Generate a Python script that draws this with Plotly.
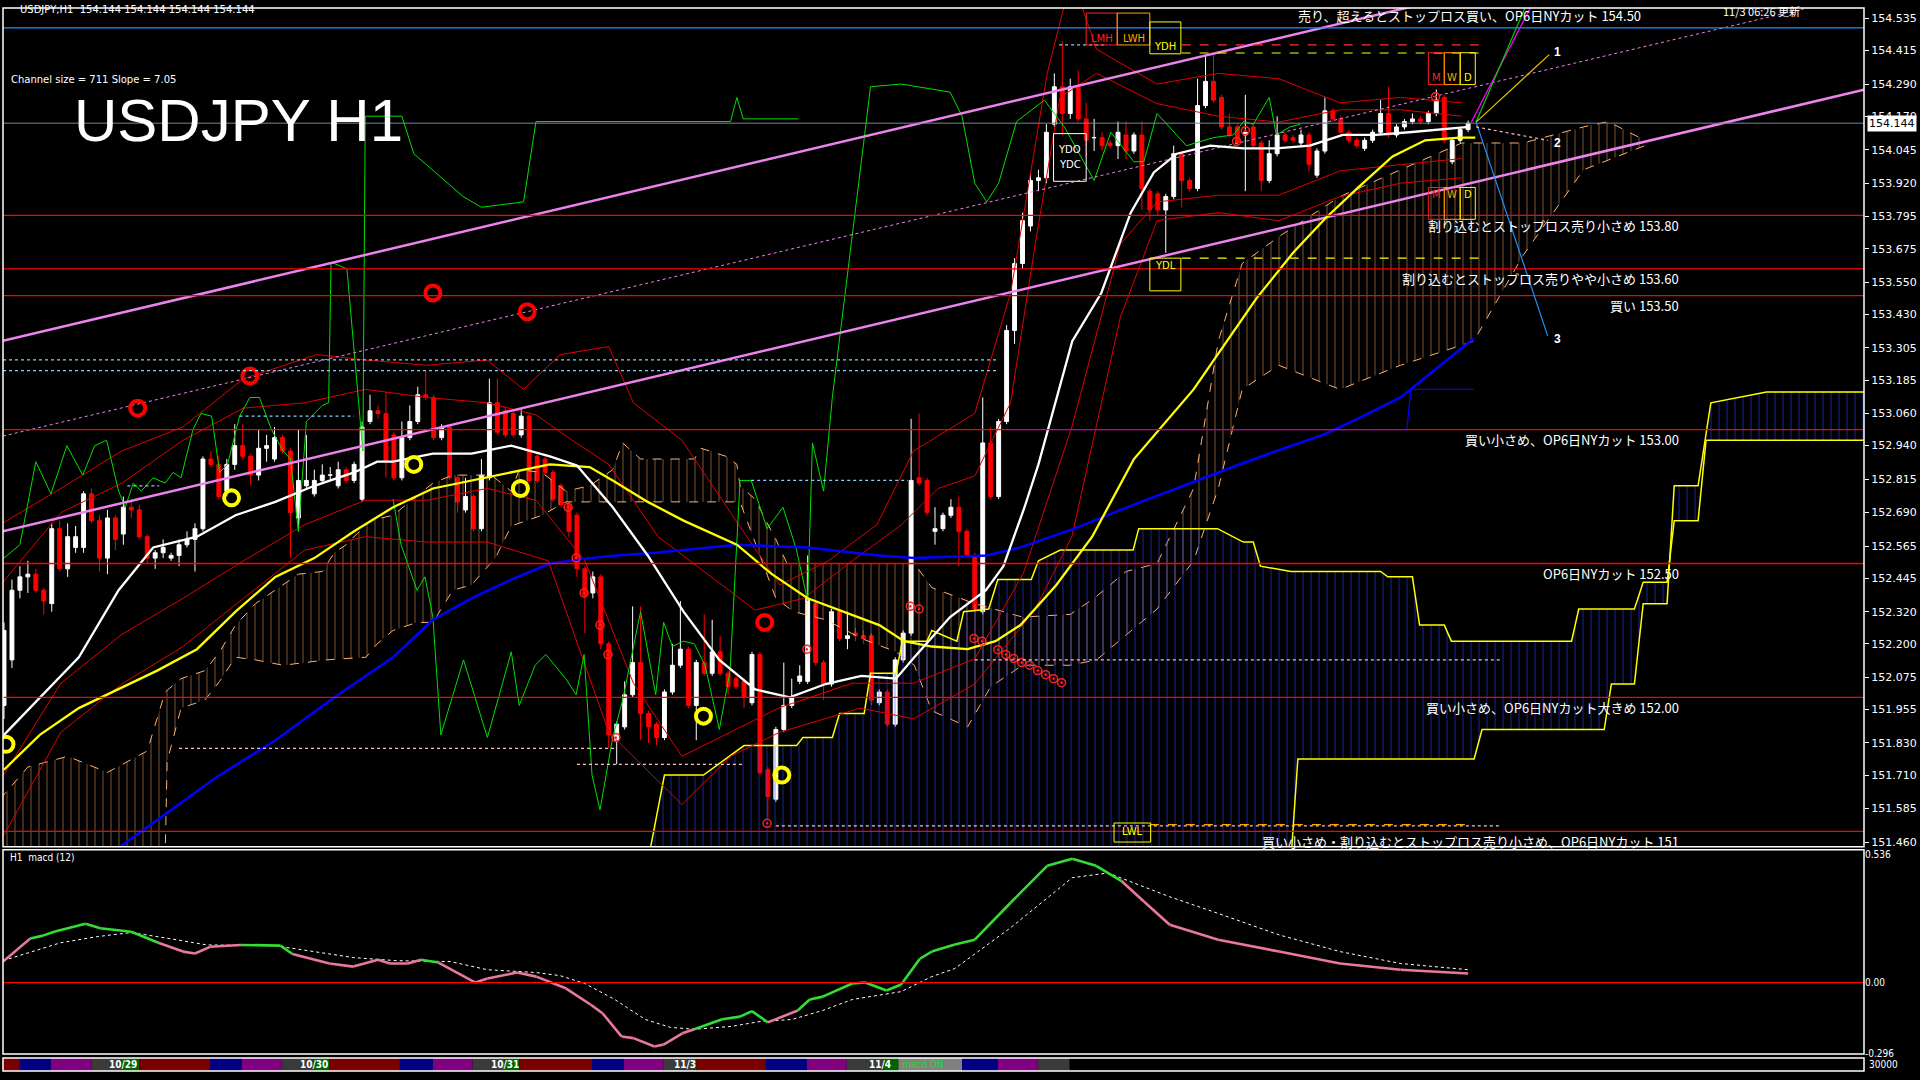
import numpy as np
import plotly.graph_objects as go

# ---------------- data ----------------
opens = [151.97,152.14,152.40,152.45,152.46,152.40,152.35,152.63,152.48,152.56,
152.56,152.76,152.66,152.52,152.67,152.61,152.71,152.70,152.60,152.52,
152.54,152.52,152.53,152.57,152.59,152.63,152.89,152.87,152.77,152.87,
152.94,152.90,152.83,152.93,152.89,152.97,152.92,152.67,152.79,152.76,
152.81,152.83,152.79,152.85,152.81,152.74,153.03,153.07,153.06,152.98,
152.82,152.97,153.03,153.13,153.12,152.97,153.01,152.82,152.70,152.75,
152.63,152.82,153.10,153.07,153.06,152.98,153.05,152.90,152.89,152.84,
152.79,152.72,152.68,152.48,152.39,152.45,152.20,151.84,151.89,152.01,
152.13,151.94,151.90,151.85,152.02,152.12,152.18,151.97,152.13,152.09,
152.17,152.09,152.07,152.06,151.98,152.16,151.73,151.62,151.88,151.97,
152.06,152.06,152.35,152.13,152.05,152.32,152.22,152.24,152.23,152.23,
151.98,152.02,151.90,152.14,152.24,152.82,152.81,152.62,152.63,152.68,
152.71,152.62,152.53,152.32,152.95,152.75,153.03,153.37,153.62,153.76,
153.93,153.94,154.14,154.28,154.18,154.28,154.16,154.09,154.09,154.07,
154.06,154.10,154.04,154.10,153.89,153.88,153.82,153.87,154.03,153.93,
153.90,154.21,154.30,154.24,154.13,154.13,154.10,154.13,154.07,153.93,
154.03,154.10,154.09,154.07,154.10,153.95,154.04,154.19,154.16,154.11,
154.08,154.05,154.08,154.11,154.18,154.10,154.13,154.15,154.16,154.15,
154.18,154.24,154.00,154.08,154.12]
closes = [152.25,152.40,152.45,152.46,152.40,152.36,152.63,152.48,152.60,152.60,
152.76,152.66,152.52,152.67,152.59,152.71,152.70,152.60,152.52,152.54,
152.56,152.53,152.57,152.59,152.63,152.89,152.87,152.75,152.87,152.94,
152.90,152.83,152.93,152.94,152.97,152.92,152.69,152.81,152.81,152.81,
152.83,152.83,152.85,152.81,152.87,153.01,153.07,153.06,152.88,152.82,
152.97,153.03,153.13,153.12,152.97,153.01,152.82,152.73,152.75,152.63,
152.83,153.10,152.99,152.98,152.98,153.05,152.81,152.81,152.84,152.74,
152.72,152.62,152.48,152.38,152.45,152.20,151.86,151.90,152.01,152.13,
151.94,151.89,151.85,152.02,152.12,152.18,151.97,152.13,152.09,152.17,
152.09,152.04,152.04,152.00,152.16,151.72,151.63,151.88,151.97,152.00,
152.08,152.37,152.13,152.05,152.32,152.22,152.23,152.23,152.22,151.99,
152.02,151.90,152.14,152.24,152.81,152.80,152.69,152.63,152.68,152.71,
152.62,152.53,152.33,152.95,152.75,153.03,153.37,153.62,153.78,153.93,
153.94,154.11,154.28,154.18,154.28,154.16,154.08,154.09,154.06,154.06,
154.11,154.04,154.10,153.90,153.82,153.82,153.87,154.03,153.93,153.90,
154.21,154.30,154.23,154.13,154.10,154.07,154.11,154.06,153.93,154.03,
154.10,154.08,154.08,154.10,153.99,154.04,154.19,154.16,154.11,154.08,
154.06,154.08,154.11,154.18,154.10,154.13,154.15,154.16,154.15,154.18,
154.23,154.08,154.08,154.12,154.144]
upper_wick_pips = [3,4,4,5,2,1,2,3,5,4, 1,2,2,3,1,4,3,2,1,1, 3,1,2,3,2,1,3,3,2,8,
8,1,7,4,4,1,1,19,17,4, 4,3,3,1,1,2,6,2,8,1, 6,6,3,9,1,1,1,1,7,1, 6,9,9,1,1,3,1,1,1,1,
1,1,1,1,2,1,1,1,5,21, 21,1,1,1,8,18,1,1,18,12, 6,1,1,1,1,1,1,1,16,7, 4,16,1,1,1,1,9,2,2,1,
1,1,1,1,23,24,1,8,1,3, 4,1,1,17,6,1,2,2,3,3, 3,3,5,17,3,6,6,7,2,1, 4,5,1,5,1,1,1,3,1,1,
10,10,10,1,5,1,14,1,1,5, 7,1,1,2,1,1,5,1,1,1, 1,1,1,5,10,1,1,2,1,1, 4,1,1,1,1]
lower_wick_pips = [5,3,3,6,1,5,3,1,3,2, 2,1,5,6,4,4,3,1,2,4, 2,1,4,1,12,1,1,1,2,2,
1,4,2,5,1,1,17,5,1,1, 1,2,1,1,1,1,1,2,6,1, 1,1,1,1,1,1,1,4,1,1, 1,1,1,1,1,1,1,1,1,1,
1,2,3,14,2,2,5,9,1,1, 10,6,3,1,1,1,1,13,1,1, 1,3,1,4,1,1,8,1,1,1, 1,1,1,6,1,1,4,2,2,2,
1,1,1,1,1,1,1,5,1,1, 13,1,1,1,1,1,1,5,2,2, 4,2,1,8,2,1,6,5,2,1, 5,3,1,8,4,2,16,1,10,1,
1,1,1,1,1,1,21,1,4,1, 1,1,1,1,3,1,1,1,1,1, 1,1,1,1,1,1,1,1,1,1, 1,1,1,1,1]

# moving averages (bar index, price)
ma_white_x = [0,4.5,9.4,14.4,18.75,24.25,29.1,34.1,39,44,46.9,48.9,53.9,58.75,63.75,68.6,72,76.5,80.9,85.4,
              89.9,94.4,98.75,103.25,107.75,112.1,114.4,118.9,123.4,125.6,128.25,130,132.25,134.25,137.9,
              141.6,144.5,147.4,151.6,155.75,159.9,164.1,168.25,172.4,176.6,180.75,184.1]
ma_white_y = [151.86,152.00,152.15,152.40,152.56,152.60,152.68,152.73,152.79,152.84,152.88,152.88,152.91,152.91,
              152.94,152.90,152.866,152.71,152.53,152.32,152.14,152.03,152.00,152.05,152.08,152.07,152.15,152.30,
              152.40,152.49,152.71,152.87,153.116,153.33,153.51,153.81,153.96,154.03,154.06,154.05,154.05,154.06,
              154.10,154.10,154.11,154.12,154.13]
ma_yellow_x = [0,4.5,9.4,14.4,19.25,24.25,29.1,34.1,39,44,48.9,53.9,58.75,63.75,68.6,73.6,76.5,80.9,85.4,92.1,
               96.5,101,105.5,110,113.1,116.6,121.1,124.6,127.75,132.25,136.75,142,149.5,157.4,162,166.1,170.4,
               174.5,178.6,182.9,184.9]
ma_yellow_y = [151.73,151.86,151.96,152.03,152.10,152.18,152.32,152.45,152.52,152.62,152.71,152.78,152.81,152.84,
               152.87,152.86,152.81,152.73,152.66,152.57,152.46,152.37,152.32,152.27,152.21,152.19,152.18,152.21,
               152.27,152.42,152.60,152.89,153.15,153.49,153.66,153.79,153.91,154.02,154.08,154.09,154.09]
ma_blue_x = [14.5,26.6,34.1,41.5,48.9,53.9,58.75,63.75,68.6,73.6,77,81.9,92.1,101,110,114.4,123.4,127.75,134.5,142,
             155.75,159.9,165.75,170.1,175.5,184.7]
ma_blue_y = [151.44,151.70,151.84,152.00,152.15,152.29,152.37,152.44,152.50,152.52,152.53,152.54,152.57,152.56,152.53,
             152.52,152.53,152.56,152.63,152.72,152.875,152.92,152.98,153.04,153.12,153.34]
kijun_blue_x = [126.5, 176.3, 176.8, 184.7]
kijun_blue_y = [153.00, 153.00, 153.15, 153.15]

# bollinger-type thin red bands (outer and inner)
bb_up_x = [-0.5,7.15,14.8,22.5,30.1,39.3,45.4,53.1,60.7,65.3,69.9,76,79.1,85.2,91.3,97.5,103.6,109.7,114.3,122,126.5,
           131.1,133.4,135,137.3,144.9,152.6,160.2,167.9,175.5,183.2]
bb_up_y = [152.645,152.78,152.92,153.01,153.19,153.28,153.26,153.24,153.26,153.15,153.28,153.31,153.10,152.96,152.69,
           152.42,152.51,152.645,152.92,153.06,153.51,154.33,154.60,154.62,154.42,154.29,154.33,154.31,154.22,154.24,154.22]
bb_lo_x = [-0.5,7.15,14.8,22.5,30.1,37.8,45.4,53.1,60.7,68.4,76,82.2,85.2,91.3,97.5,107.6,114.3,122,129.6,134.2,140.3,
           144.9,152.6,160.2,167.9,175.5,183.2]
bb_lo_y = [151.46,151.87,152.05,152.19,152.37,152.55,152.60,152.58,152.58,152.51,151.87,151.69,151.60,151.78,151.87,
           151.96,151.92,152.05,152.33,152.60,153.42,153.78,153.81,153.78,153.87,153.92,153.94]
bb_in_up_x = [-0.5,7.15,14.8,22.5,30.1,37.8,45.4,53.1,60.7,66.85,71.4,76,82.2,88.3,94.4,100.5,106.6,112.8,117.4,122,
              126.5,129.6,132.7,137.3,144.9,152.6,160.2,167.9,175.5,183.2]
bb_in_up_y = [152.417,152.69,152.80,152.96,153.08,153.10,153.15,153.12,153.10,153.055,152.96,152.87,152.60,152.463,
              152.326,152.37,152.51,152.645,152.78,152.827,153.10,153.693,154.24,154.33,154.217,154.17,154.148,154.194,
              154.194,154.17]
bb_in_lo_x = [-0.5,7.15,14.8,22.5,30.1,37.8,45.4,53.1,60.7,66.85,73,79.1,85.2,91.3,97.5,106.6,114.3,122,128.1,134.2,
              140.3,144.9,152.6,160.2,167.9,175.5,183.2]
bb_in_lo_y = [151.688,152.053,152.235,152.37,152.51,152.645,152.736,152.736,152.78,152.736,152.51,152.053,151.78,151.87,
              151.962,152.053,152.053,152.144,152.463,153.01,153.693,153.85,153.875,153.875,153.966,153.989,154.012]

# green lines
green_a_x = [0,2,4,5.9,7.9,9.9,11.4,12.9,14.4,15.25,16.25,17.25,18.75,20.25,21.25,22.25,23.75,24.75,26.1,27.1,28.1,
             29.6,30.9,32.1,33.6,35.1,36,37,38,40,40.8,41.1,43.1,45.1,45.4,50,51.5,57.7,60,65.3,66.85,91.3,92.1,92.9,99.8]
green_a_y = [152.52,152.57,152.88,152.76,152.94,152.83,152.94,152.96,152.77,152.71,152.80,152.77,152.82,152.80,152.84,
             152.82,153.00,153.06,153.05,152.84,152.87,153.05,153.12,153.12,153.00,152.92,152.89,152.62,153.03,153.09,
             153.10,153.625,153.60,152.92,154.17,154.17,154.03,153.87,153.83,153.85,154.15,154.15,154.24,154.16,154.16]
green_b_x = [48.9,49.9,51.9,52.9,53.9,54.9,57.75,60.75,63.75,64.75,66.75,68.1,70.6,71.9,72.9,73.9,74.9,76.5,77.75,80,
             81.9,82.9,84,85.4,86.75,88.1,89.9,91.25,92.5,93.9,95.9,97.9,99.6,101,101.6,103,104.1,108.9,112.75,118.9,
             120.4,122,123.5,125,127.25,130.75,133.25,137,139.1,142,143.25,144.9,148.6,152,154.5,155.75,157,159,
             159.9,161.6,162.9]
green_b_y = [152.74,152.57,152.40,152.45,152.30,151.86,152.14,151.85,152.17,151.97,152.12,152.16,152.07,152.01,152.16,
             151.71,151.58,151.85,151.99,152.32,152.01,152.28,152.19,152.21,152.20,152.12,151.88,152.10,152.81,152.81,
             152.63,152.71,152.55,152.36,152.95,152.77,153.12,154.28,154.29,154.26,154.17,153.92,153.85,153.92,154.15,
             154.23,154.13,153.93,154.11,154.00,154.00,154.18,154.06,154.09,154.10,154.15,154.14,154.24,154.10,154.13,
             154.14]

# H1 ichimoku cloud spans (orange)
kumo_a_x = [-0.5,3,8,13,18,20.25,22.25,25.25,27.1,29.1,31.6,34.1,37,40,41.5,43,46,48.9,51.4,53.9,56.4,61.25,63.75,
            64.75,67.6,70.6,73.6,76.5,77.75,80,86.75,87.6,90.75,92.1,92.5,94.4,96.1,97,98.4,114.4,116.6,122,128,134,
            137,141,144.9,149.5,152.6,155.6,160.2,167.9,175.5,183.2,190.9,198.5,201.6,206.2]
kumo_a_y = [151.62,151.74,151.78,151.72,151.80,152.02,152.07,152.10,152.17,152.27,152.35,152.40,152.46,152.47,152.54,
            152.57,152.66,152.68,152.74,152.80,152.83,152.83,152.77,152.85,152.84,152.77,152.79,152.85,152.95,152.89,
            152.89,152.93,152.90,152.87,152.79,152.74,152.64,152.59,152.50,152.50,152.41,152.35,152.30,152.31,152.37,
            152.47,152.50,152.78,153.33,153.62,153.72,153.87,153.97,154.07,154.07,154.13,154.15,154.08]
kumo_b_x = [-0.5,20.25,20.5,22.25,25.25,27.1,29.1,31.6,35.1,40.5,45.5,46.9,48.9,51.9,53.9,56.4,58.75,61.75,63.75,
            67.6,70.6,92.5,97,99.25,103.25,107.75,112.1,114.4,116.6,121.1,124,128,134,137.3,144.9,149.5,152.6,155.6,
            160.2,167.9,175.5,184.7,190.9,198.5,206.2]
kumo_b_y = [151.40,151.40,151.76,151.96,151.99,152.06,152.15,152.14,152.12,152.14,152.15,152.20,152.25,152.28,152.28,
            152.40,152.42,152.52,152.64,152.68,152.73,152.73,152.37,152.32,152.29,152.22,152.17,152.12,151.95,151.89,
            152.04,152.12,152.12,152.14,152.33,152.51,152.78,153.15,153.24,153.15,153.24,153.33,153.65,153.97,154.06]

# higher-timeframe cloud (blue, bounded by yellow step lines)
htf_a_x = [81.0,82.0,83.0,87.9,93,99.6,100.4,104.1,105,108.1,108.9,112.1,112.9,116,116.6,119.75,120.6,123.75,124.9,129.1,
           130,132.75,141.9,142.6,152.5,155.75,157,157.9,161.75,173,173.9,177,177.9,181,181.9,197,197.9,204.9,206,
           209,209.9,212.9,213.9,233.75]
htf_a_y = [151.40,151.55,151.71,151.71,151.82,151.82,151.85,151.85,151.94,151.94,152.09,152.09,152.21,152.21,152.25,
           152.21,152.32,152.33,152.44,152.44,152.51,152.55,152.55,152.63,152.63,152.58,152.58,152.49,152.47,152.47,
           152.45,152.45,152.27,152.27,152.21,152.21,152.33,152.33,152.43,152.43,152.66,152.66,152.96,152.96]
htf_b_x = [81.0,161.75,162.6,184.75,185.75,201.1,202,204.9,206,209,209.9,212.9,214.5,221.5,233.75]
htf_b_y = [151.40,151.40,151.77,151.77,151.88,151.88,152.05,152.05,152.35,152.35,152.79,152.79,153.10,153.14,153.14]

# MACD (bar index, value)
macd_x = [-0.125,3.3,4.9,6.4,10.25,12.1,16,19.4,22.5,24,25.9,29.75,34.75,36.25,40.9,43.9,47,48.5,50.75,52.4,54.6,
          59.25,60.75,64.5,66.9,70.6,73.75,75.25,77.6,79.1,81.75,82.9,85.25,86.75,90.25,92.5,94,96,99.75,101.25,
          102.9,106.6,108.25,110.9,112.75,115.1,116.6,119.5,122,126.5,131.1,134.25,137.25,140.4,143.25,146.5,152.6,
          160.25,167.9,175.5,184]
macd_y = [0.088,0.185,0.197,0.214,0.247,0.228,0.213,0.167,0.13,0.122,0.15,0.158,0.155,0.12,0.08,0.067,0.096,0.08,
          0.08,0.096,0.084,0.0,0.017,0.042,0.025,-0.024,-0.093,-0.13,-0.226,-0.233,-0.268,-0.26,-0.213,-0.196,-0.154,
          -0.143,-0.12,-0.167,-0.117,-0.071,-0.059,-0.004,0.0,-0.033,-0.008,0.1,0.13,0.16,0.18,0.335,0.49,0.52,0.49,
          0.427,0.34,0.243,0.18,0.13,0.08,0.054,0.038]
signal_x = [-0.1,7.1,11.75,16,20.9,25.5,34,39.25,43.9,49.25,56.1,60.75,66.9,69.9,73,76.75,80.6,83.75,86.75,91.4,95.1,
            99,102.9,106.6,112.75,116.6,119.5,126.5,134.25,138.75,146.5,152.6,160.25,167.9,175.5,184]
signal_y = [0.092,0.167,0.193,0.21,0.184,0.158,0.155,0.13,0.105,0.092,0.088,0.054,0.042,0.029,-0.004,-0.071,-0.155,
            -0.188,-0.196,-0.184,-0.163,-0.155,-0.117,-0.071,-0.038,0.025,0.059,0.23,0.44,0.46,0.36,0.29,0.2,0.13,
            0.08,0.054]

# horizontal levels and their notes
red_levels = [153.80, 153.60, 153.50, 153.00, 152.50, 152.00, 151.50]
red_notes = ["割り込むとストップロス売り小さめ 153.80", "割り込むとストップロス売りやや小さめ 153.60", "買い 153.50",
             "買い小さめ、OP6日NYカット 153.00", "OP6日NYカット 152.50", "買い小さめ、OP6日NYカット大きめ 152.00",
             "買い小さめ・割り込むとストップロス売り小さめ、OP6日NYカット 151"]
blue_level = 154.50
blue_note = "売り、超えるとストップロス買い、OP6日NYカット 154.50"
last_price = 154.144

price_ticks = [154.535,154.415,154.290,154.170,154.045,153.920,153.795,153.675,153.550,153.430,153.305,153.185,
               153.060,152.940,152.815,152.690,152.565,152.445,152.320,152.200,152.075,151.955,151.830,151.710,
               151.585,151.460]
macd_ticks = [0.536, 0.0, -0.296]
macd_tick_text = ["0.536", "0.00", "-0.296"]

# regression channel
channel_start_bar = 0
channel_start_low = 152.621
channel_slope = 0.00705
channel_size = 0.711

# session strip (bar index ranges)
strip_edges = [-0.125,2,5.9,11,14.75,17,25.9,29.9,34.9,38.9,40.9,49.75,53.9,58.9,62.9,64.75,73.9,77.9,82.9,86.75,87,
               95.75,100.9,105.9,110.5,112.4,120.4,124.9,129.9,133.9]
strip_colors = ["#7a0000","#000080","#800080","#3a3a3a","#006400","#7a0000","#000080","#800080","#3a3a3a","#006400",
                "#7a0000","#000080","#800080","#3a3a3a","#006400","#7a0000","#000080","#800080","#3a3a3a","#006400",
                "#7a0000","#000080","#800080","#3a3a3a","#006400","#808080","#000080","#800080","#3a3a3a"]
date_labels = ["10/29", "10/30", "10/31", "11/3", "11/4"]
date_label_bars = [15.0, 38.9, 62.9, 85.6, 110.1]

# markers
red_ring_x = [70.9,71.9,72.9,74.9,75.9,76.9,95.9,100.9,113.9,115,121.9,122.9,124.9,125.9,126.9,127.9,128.9,129.9,130.9,
              131.9,132.9,154.9,156,179.9]
red_ring_y = [152.71,152.52,152.39,152.27,152.16,151.85,151.53,152.18,152.34,152.33,152.22,152.21,152.178,152.16,152.145,
              152.13,152.12,152.10,152.085,152.07,152.055,154.076,154.116,154.243]
big_red_x = [16.8, 30.9, 53.9, 65.75, 95.6]
big_red_y = [153.08, 153.20, 153.51, 153.44, 152.28]
yellow_mark_x = [0.25, 28.6, 51.5, 64.9, 87.9, 97.75]
yellow_mark_y = [151.825, 152.745, 152.87, 152.78, 151.93, 151.71]

# ---------------- figure ----------------
bars = list(range(len(closes)))
highs = [max(o, c) + u / 100 for o, c, u in zip(opens, closes, upper_wick_pips)]
lows = [min(o, c) - d / 100 for o, c, d in zip(opens, closes, lower_wick_pips)]

XR = [-0.125, 233.75]
YR = [151.442, 154.574]

fig = go.Figure()

def line_trace(x, y, color, width, dash="solid", **kw):
    return go.Scatter(x=x, y=y, mode="lines", line=dict(color=color, width=width, dash=dash),
                      showlegend=False, hoverinfo="skip", **kw)

# orange H1 cloud
fig.add_trace(go.Scatter(x=kumo_a_x + kumo_b_x[::-1], y=kumo_a_y + kumo_b_y[::-1], mode="lines",
                         line=dict(width=0), fill="toself", fillcolor="rgba(0,0,0,0)",
                         fillpattern=dict(shape="|", fgcolor="#FFB070", bgcolor="rgba(0,0,0,0)", size=8, solidity=0.12),
                         hoverinfo="skip", showlegend=False))
fig.add_trace(line_trace(kumo_a_x, kumo_a_y, "#FFB070", 1, "dash"))
fig.add_trace(line_trace(kumo_b_x, kumo_b_y, "#FFB070", 1, "dash"))
# blue HTF cloud
fig.add_trace(go.Scatter(x=htf_a_x + htf_b_x[::-1], y=htf_a_y + htf_b_y[::-1], mode="lines", line=dict(width=0),
                         fill="toself", fillcolor="rgba(0,0,0,0)",
                         fillpattern=dict(shape="|", fgcolor="#2846FF", bgcolor="rgba(0,0,0,0)", size=8, solidity=0.14),
                         hoverinfo="skip", showlegend=False))
fig.add_trace(line_trace(htf_a_x, htf_a_y, "#FFFF00", 1.5))
fig.add_trace(line_trace(htf_b_x, htf_b_y, "#FFFF00", 1.5))

# thin red bands
for bx, by in ((bb_up_x, bb_up_y), (bb_lo_x, bb_lo_y), (bb_in_up_x, bb_in_up_y), (bb_in_lo_x, bb_in_lo_y)):
    fig.add_trace(line_trace(bx, by, "#E00000", 1))
# green lines
for gx_, gy_ in ((green_a_x, green_a_y), (green_b_x, green_b_y)):
    fig.add_trace(line_trace(gx_, gy_, "#00E000", 1))

# channel
ch_x = [XR[0], XR[1]]
low_line = [channel_start_low + channel_slope * (b - channel_start_bar) for b in ch_x]
fig.add_trace(line_trace(ch_x, low_line, "#EE82EE", 2.5))
fig.add_trace(line_trace(ch_x, [v + channel_size for v in low_line], "#EE82EE", 2.5))
fig.add_trace(line_trace(ch_x, [v + channel_size / 2 for v in low_line], "#EE82EE", 1, "dot"))

# MAs
fig.add_trace(line_trace(kijun_blue_x, kijun_blue_y, "#0000FF", 1.2))
fig.add_trace(line_trace(ma_blue_x, ma_blue_y, "#0000FF", 2.5))
fig.add_trace(line_trace(ma_yellow_x, ma_yellow_y, "#FFFF00", 2.3))
fig.add_trace(line_trace(ma_white_x, ma_white_y, "#FFFFFF", 2.3))

# candles
fig.add_trace(go.Candlestick(x=bars, open=opens, high=highs, low=lows, close=closes,
                             increasing=dict(line=dict(color="#FFFFFF", width=1), fillcolor="#FFFFFF"),
                             decreasing=dict(line=dict(color="#FF0000", width=1), fillcolor="#FF0000"),
                             whiskerwidth=0, showlegend=False, hoverinfo="skip"))

# markers
fig.add_trace(go.Scatter(x=red_ring_x, y=red_ring_y, mode="markers",
                         marker=dict(symbol="circle-open-dot", size=8, color="#FF2020", line=dict(width=1.5)),
                         showlegend=False, hoverinfo="skip"))
fig.add_trace(go.Scatter(x=big_red_x, y=big_red_y, mode="markers",
                         marker=dict(symbol="circle-open", size=15, color="#FF0000", line=dict(width=4)),
                         showlegend=False, hoverinfo="skip"))
fig.add_trace(go.Scatter(x=yellow_mark_x, y=yellow_mark_y, mode="markers",
                         marker=dict(symbol="circle-open", size=15, color="#FFFF00", line=dict(width=4)),
                         showlegend=False, hoverinfo="skip"))

# MACD
sig_at = np.interp(macd_x, signal_x, signal_y)
gx, gy, px, py_ = [], [], [], []
for k in range(len(macd_x) - 1):
    tx, ty = (gx, gy) if macd_y[k] >= sig_at[k] else (px, py_)
    tx += [macd_x[k], macd_x[k + 1], None]
    ty += [macd_y[k], macd_y[k + 1], None]
fig.add_trace(line_trace(signal_x, signal_y, "#FFFFFF", 1, "dot", xaxis="x2", yaxis="y2"))
fig.add_trace(line_trace(gx, gy, "#33DD33", 2.6, xaxis="x2", yaxis="y2", connectgaps=False))
fig.add_trace(line_trace(px, py_, "#E8789C", 2.6, xaxis="x2", yaxis="y2", connectgaps=False))

shapes = []
ann = []
JP = "Noto Sans CJK JP"
# horizontal level lines
for lv in red_levels:
    shapes.append(dict(type="line", xref="x domain", yref="y", x0=0, x1=1, y0=lv, y1=lv,
                       line=dict(color="#FF0000", width=1.3)))
shapes.append(dict(type="line", xref="x domain", yref="y", x0=0, x1=1, y0=blue_level, y1=blue_level,
                   line=dict(color="#1E90FF", width=1.3)))
shapes.append(dict(type="line", xref="x domain", yref="y", x0=0, x1=1, y0=last_price, y1=last_price,
                   line=dict(color="#778899", width=1)))
# dotted helper lines
for yv in (153.26, 153.22):
    shapes.append(dict(type="line", xref="x", yref="y", x0=XR[0], x1=125, y0=yv, y1=yv,
                       line=dict(color="#87CEFA", width=1.2, dash="dot")))
for (x0, x1, yv, col, dsh) in [(148, 186, 154.406, "#FFFF00", "dash"), (148, 186, 154.436, "#FF3030", "dash"),
                               (132.6, 138.3, 154.436, "#87CEFA", "dot"), (148, 186, 153.64, "#FFFF00", "dash"),
                               (144, 184.5, 151.525, "#FFA500", "dash"), (122, 188, 152.14, "#FFC0CB", "dot"),
                               (97, 188, 151.52, "#FFC0CB", "dot"), (22, 77, 151.81, "#FFC0CB", "dot"),
                               (72, 93, 151.75, "#FFC0CB", "dot"), (15.5, 19.5, 152.79, "#87CEFA", "dot"),
                               (29.6, 44, 153.05, "#87CEFA", "dot"), (93.9, 113.6, 152.81, "#87CEFA", "dot")]:
    shapes.append(dict(type="line", xref="x", yref="y", x0=x0, x1=x1, y0=yv, y1=yv,
                       line=dict(color=col, width=1.2, dash=dsh)))
# forecast lines
for (x0, y0, x1, y1, col, dsh) in [(184.4, 154.148, 192.6, 154.62, "#FF00FF", "solid"),
                                   (185.0, 154.148, 191.8, 154.62, "#00CC00", "solid"),
                                   (185.0, 154.148, 194.2, 154.40, "#E8C000", "solid"),
                                   (185.0, 154.148, 194.0, 153.35, "#1E90FF", "solid"),
                                   (185.0, 154.13, 194.0, 154.08, "#FFB6C1", "dot")]:
    shapes.append(dict(type="line", xref="x", yref="y", x0=x0, y0=y0, x1=x1, y1=y1,
                       line=dict(color=col, width=1.2, dash=dsh)))
for t, yv in (("1", 154.408), ("2", 154.07), ("3", 153.34)):
    ann.append(dict(x=195.2, y=yv, xref="x", yref="y", text="<b>" + t + "</b>", showarrow=False,
                    font=dict(color="white", size=12, family="Liberation Sans")))
# boxes
boxes = [(136, 139.9, 154.555, 154.436, "#FF2020", "LMH", 154.462),
         (139.9, 144, 154.555, 154.436, "#FFA500", "LWH", 154.462),
         (144, 147.9, 154.522, 154.403, "#FFFF00", "YDH", 154.43),
         (131.9, 136, 154.105, 153.927, "#FFFFFF", "YDO", 154.046),
         (144, 147.9, 153.64, 153.518, "#FFFF00", "YDL", 153.614),
         (179, 181, 154.407, 154.288, "#FF2020", "M", 154.314),
         (181, 183, 154.407, 154.288, "#FFA500", "W", 154.314),
         (183, 184.9, 154.407, 154.288, "#FFFF00", "D", 154.314),
         (179, 181, 153.904, 153.785, "#FF2020", "M", 153.878),
         (181, 183, 153.904, 153.785, "#FFA500", "W", 153.878),
         (183, 184.9, 153.904, 153.785, "#FFFF00", "D", 153.878),
         (139.5, 144.1, 151.531, 151.46, "#FFFF00", "LWL", 151.50)]
for (x0, x1, y0, y1, col, txt, ty) in boxes:
    shapes.append(dict(type="rect", xref="x", yref="y", x0=x0, x1=x1, y0=y0, y1=y1, line=dict(color=col, width=1)))
    ann.append(dict(x=(x0 + x1) / 2, y=ty, xref="x", yref="y", text=txt, showarrow=False,
                    font=dict(color=col, size=10, family="DejaVu Sans")))
ann.append(dict(x=133.95, y=153.99, xref="x", yref="y", text="YDC", showarrow=False,
                font=dict(color="#FFFFFF", size=10, family="DejaVu Sans")))
# level notes
for lv, note in zip(red_levels, red_notes):
    ann.append(dict(x=210.75, y=lv, xref="x", yref="y", text=note, showarrow=False, xanchor="right",
                    yanchor="middle", yshift=-10, font=dict(color="white", size=13, family=JP)))
ann.append(dict(x=206.0, y=blue_level, xref="x", yref="y", text=blue_note, showarrow=False, xanchor="right",
                yanchor="middle", yshift=12, font=dict(color="white", size=13, family=JP)))

# macd zero line
shapes.append(dict(type="line", xref="x2 domain", yref="y2", x0=0, x1=1, y0=0, y1=0,
                   line=dict(color="#FF0000", width=1.3)))
# session strip
for k, col in enumerate(strip_colors):
    shapes.append(dict(type="rect", xref="x3", yref="y3 domain", x0=strip_edges[k], x1=strip_edges[k + 1],
                       y0=0, y1=1, fillcolor=col, line=dict(width=0), layer="below"))
for t, b in zip(date_labels, date_label_bars):
    ann.append(dict(x=b, y=0.5, xref="x3", yref="y3 domain", text="<b>" + t + "</b>", showarrow=False,
                    font=dict(color="white", size=10, family="DejaVu Sans Condensed")))
ann.append(dict(x=112.6, y=0.5, xref="x3", yref="y3 domain", text="macd ON", showarrow=False, xanchor="left",
                font=dict(color="#22DD22", size=10, family="DejaVu Sans Condensed")))

# panel borders
H = 1068.0
def py(yf):
    return (1076 - yf) / H
for (top, bot) in ((8, 850), (853, 1058), (1062, 1075)):
    shapes.append(dict(type="rect", xref="paper", yref="paper", x0=0, x1=1, y0=py(bot), y1=py(top),
                       line=dict(color="white", width=1.5)))

# texts
ann.append(dict(x=(18 - 3) / 1871, y=py(10), xref="paper", yref="paper", xanchor="left", yanchor="middle",
                text="USDJPY,H1  154.144 154.144 154.144 154.144", showarrow=False,
                font=dict(color="white", size=10, family="DejaVu Sans")))
ann.append(dict(x=(9 - 3) / 1871, y=py(80), xref="paper", yref="paper", xanchor="left", yanchor="middle",
                text="Channel size = 711 Slope = 7.05", showarrow=False,
                font=dict(color="white", size=10, family="DejaVu Sans")))
ann.append(dict(x=(72 - 3) / 1871, y=py(121), xref="paper", yref="paper", xanchor="left", yanchor="middle",
                text="USDJPY H1", showarrow=False, font=dict(color="white", size=60, family="Liberation Sans")))
ann.append(dict(x=(1812 - 3) / 1871, y=py(11), xref="paper", yref="paper", xanchor="right", yanchor="middle",
                text="11/3 06:26 更新", showarrow=False, font=dict(color="white", size=11, family=JP)))
ann.append(dict(x=(8 - 3) / 1871, y=py(861), xref="paper", yref="paper", xanchor="left", yanchor="middle",
                text="H1  macd (12)", showarrow=False, font=dict(color="white", size=10, family="DejaVu Sans Condensed")))
ann.append(dict(x=1.0, y=last_price, xref="paper", yref="y", xanchor="left", yanchor="middle", xshift=3,
                text="154.144", showarrow=False, bgcolor="white", borderpad=1,
                font=dict(color="black", size=11, family="DejaVu Sans")))
ann.append(dict(x=1.0, y=0.5, xref="paper", yref="y3 domain", xanchor="left", yanchor="middle", xshift=3,
                text="30000", showarrow=False, font=dict(color="white", size=10, family="DejaVu Sans Condensed")))

axis_common = dict(showgrid=False, zeroline=False, showticklabels=False, range=XR, fixedrange=True)
fig.update_layout(
    width=1920, height=1080, paper_bgcolor="black", plot_bgcolor="black",
    margin=dict(l=3, r=46, t=8, b=4), showlegend=False,
    xaxis=dict(domain=[0, 1], anchor="y", rangeslider=dict(visible=False), **axis_common),
    xaxis2=dict(domain=[0, 1], anchor="y2", matches="x", **axis_common),
    xaxis3=dict(domain=[0, 1], anchor="y3", matches="x", **axis_common),
    yaxis=dict(domain=[py(850), 1.0], range=YR, side="right", showgrid=False, zeroline=False,
               tickvals=price_ticks, ticktext=[f"{v:.3f}" for v in price_ticks], ticks="outside", ticklen=4,
               tickcolor="white", showline=False, tickfont=dict(color="white", size=11, family="DejaVu Sans"),
               fixedrange=True),
    yaxis2=dict(domain=[py(1058), py(853)], range=[-0.30, 0.557], side="right", showgrid=False, zeroline=False,
                tickvals=macd_ticks, ticktext=macd_tick_text, ticks="", tickfont=dict(color="white", size=10,
                family="DejaVu Sans Condensed"), fixedrange=True),
    yaxis3=dict(domain=[py(1075), py(1062)], range=[0, 1], showticklabels=False, showgrid=False, zeroline=False,
                fixedrange=True),
    shapes=shapes, annotations=ann,
)

fig.write_html("out.html", config={"displayModeBar": False},
               post_script="document.body.style.margin='0';document.body.style.background='black';")
